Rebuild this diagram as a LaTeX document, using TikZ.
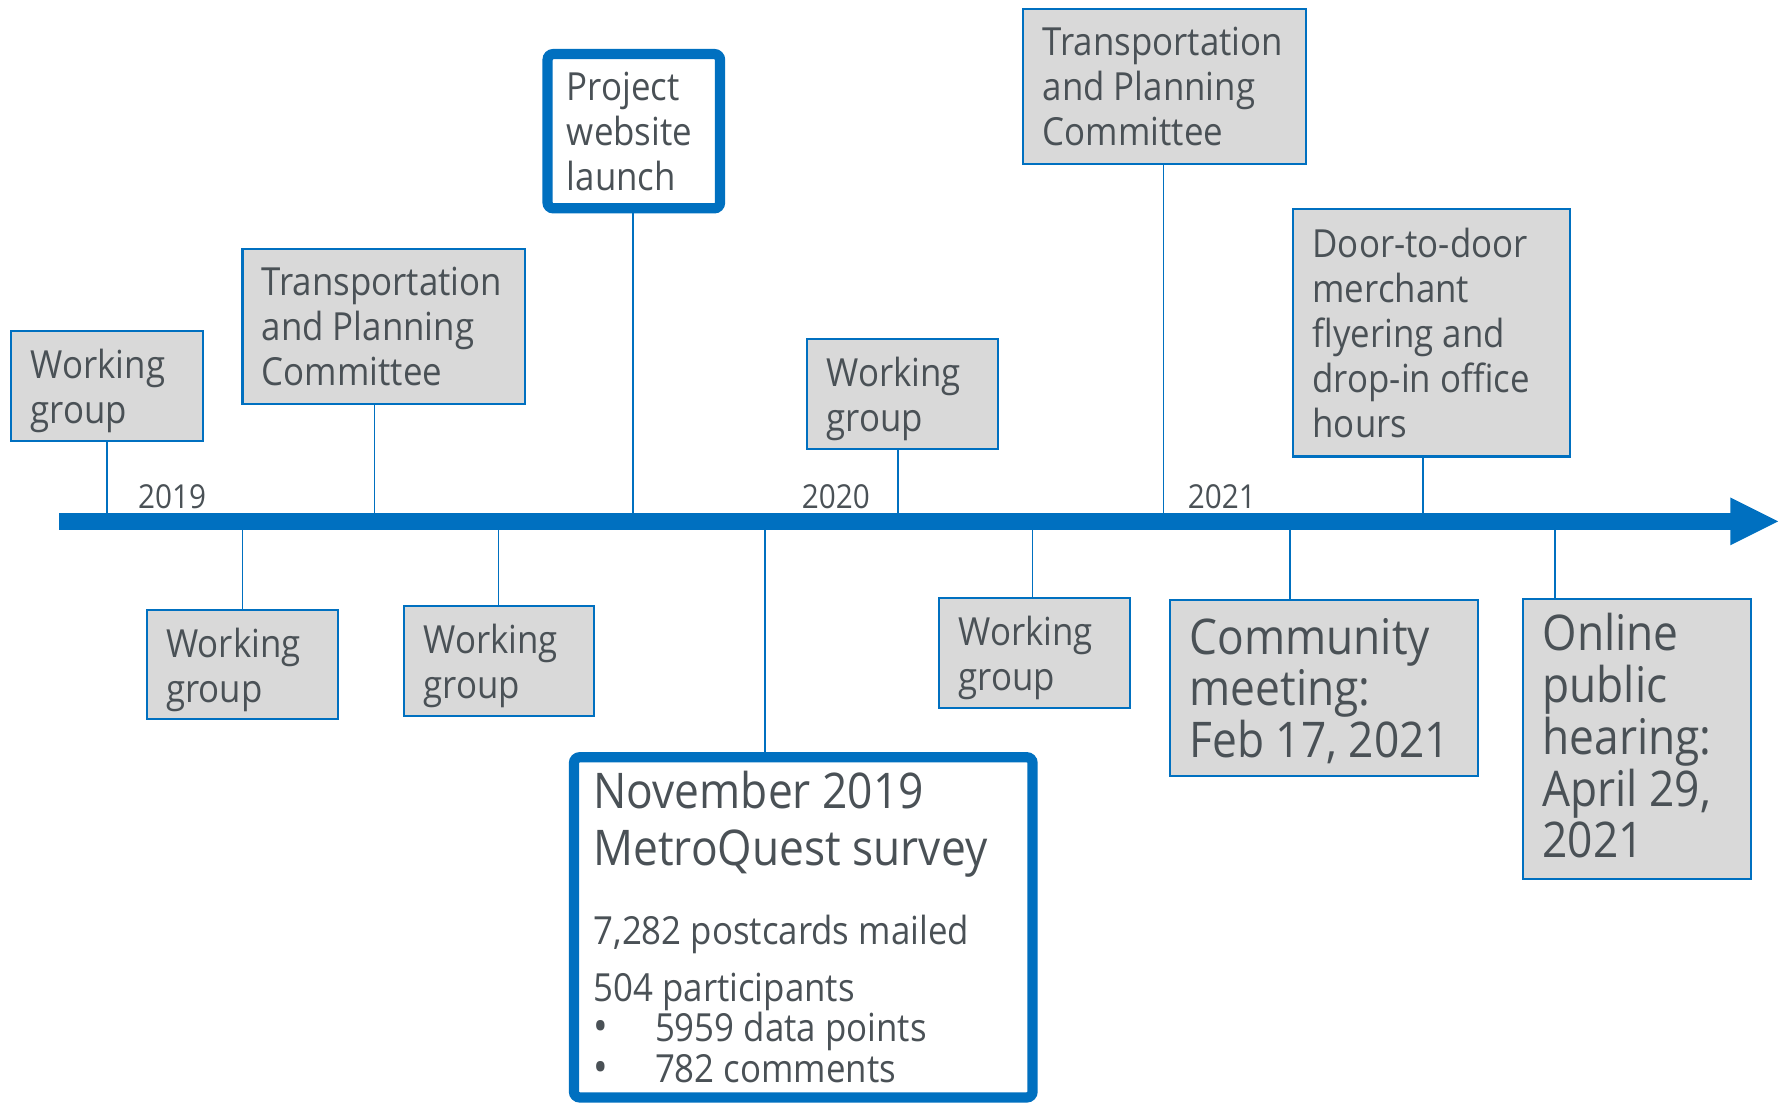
\documentclass[tikz,border=0pt]{standalone}
\usepackage{fontspec}
\setmainfont{Open Sans}[FakeStretch=0.9]
\definecolor{tlblue}{HTML}{0070C0}
\definecolor{boxgray}{HTML}{D9D9D9}
\definecolor{txtgray}{HTML}{4A5156}
\newcommand{\normf}{\fontsize{17}{19.75}\selectfont\hyphenpenalty=10000\exhyphenpenalty=10000}
\newcommand{\bigf}{\fontsize{21.6}{22.75}\selectfont\hyphenpenalty=10000\exhyphenpenalty=10000}
\newcommand{\listf}{\fontsize{17}{18}\selectfont\hyphenpenalty=10000\exhyphenpenalty=10000}
\newcommand{\bul}{\makebox[27pt][l]{\fontsize{19}{18}\selectfont•}}
\tikzset{
  natspace/.style={execute at begin node={\spaceskip=0pt\xspaceskip=0pt\relax}},
  ev/.style={draw=tlblue, line width=0.9pt, fill=boxgray, text=txtgray, align=left,
    inner xsep=8.5pt, inner ysep=0pt, font=\normf, natspace,
    execute at end node={\par\kern-\prevdepth}},
  evbig/.style={ev, font=\bigf, execute at end node={\par\kern-\prevdepth\kern3pt}},
  keybox/.style={draw=tlblue, line width=4.5pt, fill=white, rounded corners=2.5pt, text=txtgray,
    align=left, inner xsep=8.5pt, inner ysep=0pt, font=\normf, natspace},
  conn/.style={draw=tlblue, line width=0.65pt},
  yearlbl/.style={text=txtgray, inner sep=0pt, anchor=base west, font=\fontsize{14.5}{16}\selectfont},
  survtxt/.style={text=txtgray, inner sep=0pt, anchor=base west},
}
\begin{document}
\begin{tikzpicture}[x=0.5pt,y=-0.5pt]
\useasboundingbox (0,0) rectangle (1568,969);

% anchor points on the timeline
\coordinate (b1) at (94,458);
\coordinate (b2) at (329,458);
\coordinate (b3) at (556,458);
\coordinate (b4) at (789,458);
\coordinate (b5) at (1022,458);
\coordinate (b6) at (1250,458);
\coordinate (b7) at (213,458);
\coordinate (b8) at (438,458);
\coordinate (b9) at (672,458);
\coordinate (b10) at (907,458);
\coordinate (b11) at (1133,458);
\coordinate (b12) at (1366,458);

% boxes above
\node[ev, text width=67pt, minimum height=48pt] (wg1) at (94,339) {Working\\group};
\node[ev, text width=107pt, minimum height=68pt] (tpc1) at (337,287) {Transportation\\and~Planning\\Committee};
\node[keybox, text width=58.75pt, minimum height=67.75pt] (web) at (556.75,115.25) {Project\\website\\launch};
\node[ev, text width=67pt, minimum height=48pt] (wg2) at (793,346) {Working\\group};
\node[ev, text width=107pt, minimum height=68pt] (tpc2) at (1023,76) {Transportation\\and~Planning\\Committee};
\node[ev, text width=104.5pt, minimum height=108.5pt] (door) at (1257.5,292.5) {Door-to-door\\merchant\\flyering~and\\drop-in~office\\hours};

% boxes below
\node[ev, text width=67pt, minimum height=48pt] (wg3) at (213,584) {Working\\group};
\node[ev, text width=66.5pt, minimum height=48.5pt] (wg4) at (438.5,580.5) {Working\\group};
\node[keybox, minimum width=201.4pt, minimum height=149.4pt, inner sep=0pt] (survey) at (705.6,814.6) {};
\node[ev, text width=67pt, minimum height=48.5pt] (wg5) at (909,573.5) {Working\\group};
\node[evbig, text width=118pt, minimum height=77.5pt] (comm) at (1163,604.5) {Community\\meeting:\\Feb~17,~2021};
\node[evbig, text width=83pt, minimum height=123pt] (online) at (1438,649) {Online\\public\\hearing:\\April~29,\\2021};

% survey text
\node[survtxt, font=\bigf] (s1) at (521,710) {November 2019};
\node[survtxt, font=\bigf] (s2) at (521,760.3) {MetroQuest survey};
\node[survtxt, font=\normf] (s3) at (521,829.5) {7,282 postcards mailed};
\node[survtxt, font=\listf, text width=180pt, align=left, natspace] (s4) at (521,879.3)
  {504 participants\\ \bul 5959 data points\\ \bul 782 comments};

% connectors
\draw[conn] (b1) -- (b1 |- wg1.south);
\draw[conn] (b2) -- (b2 |- tpc1.south);
\draw[conn] (b3) -- (b3 |- web.south);
\draw[conn] (b4) -- (b4 |- wg2.south);
\draw[conn] (b5) -- (b5 |- tpc2.south);
\draw[conn] (b6) -- (b6 |- door.south);
\draw[conn] (b7) -- (b7 |- wg3.north);
\draw[conn] (b8) -- (b8 |- wg4.north);
\draw[conn] (b9) -- (b9 |- survey.north);
\draw[conn] (b10) -- (b10 |- wg5.north);
\draw[conn] (b11) -- (b11 |- comm.north);
\draw[conn] (b12) -- (b12 |- online.north);

% timeline bar and arrow head
\fill[tlblue] (52,450.5) rectangle (1521,465.5);
\fill[tlblue] (1520,437) -- (1562,458) -- (1520,479) -- cycle;

% year labels
\node[yearlbl] (y2019) at (121,446.5) {2019};
\node[yearlbl] (y2020) at (704,446.5) {2020};
\node[yearlbl] (y2021) at (1043,446.5) {2021};
\end{tikzpicture}
\end{document}
